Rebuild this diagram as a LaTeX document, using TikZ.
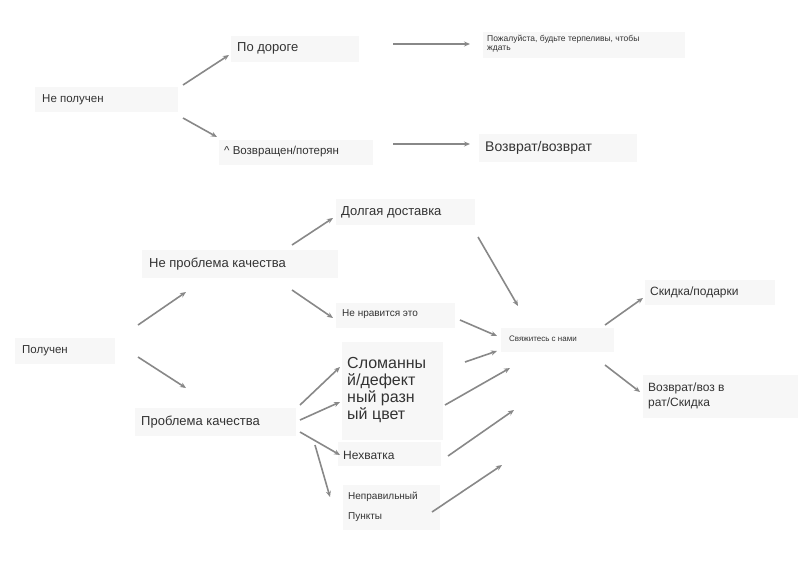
\documentclass[tikz,border=0pt]{standalone}
\usepackage{fontspec}
\setmainfont{Liberation Sans}
\usetikzlibrary{arrows.meta}
\definecolor{bx}{HTML}{F7F7F7}
\definecolor{tx}{HTML}{333333}
\definecolor{ar}{HTML}{888888}
\begin{document}
\begin{tikzpicture}[x=1pt,y=-1pt,
  lbl/.style={text=tx,anchor=west,inner sep=0pt,font=\fontsize{11.5}{13}\selectfont,align=left},
  conn/.style={draw=ar,line width=1.6pt,-{Stealth[length=6pt,width=5pt]}}]
\useasboundingbox[fill=white] (0,0) rectangle (799,565);
\path[fill=bx] (35,87) rectangle (178,112);
\path[fill=bx] (231,36) rectangle (359,62);
\path[fill=bx] (483,32) rectangle (685,58);
\path[fill=bx] (219,140) rectangle (373,165);
\path[fill=bx] (479,134) rectangle (637,162);
\path[fill=bx] (15,338) rectangle (115,364);
\path[fill=bx] (142,250) rectangle (338,278);
\path[fill=bx] (336,199) rectangle (475,225);
\path[fill=bx] (336,303) rectangle (455,328);
\path[fill=bx] (501,328) rectangle (614,352);
\path[fill=bx] (645,280) rectangle (775,305);
\path[fill=bx] (643,375) rectangle (798,418);
\path[fill=bx] (135,408) rectangle (296,436);
\path[fill=bx] (342,342) rectangle (443,440);
\path[fill=bx] (338,442) rectangle (441,466);
\path[fill=bx] (343,485) rectangle (440,530);
\node[lbl] (np) at (42,100) {Не получен};
\node[lbl,font=\fontsize{13}{15}\selectfont] (pd) at (237,48) {По дороге};
\node[lbl,font=\fontsize{8.5}{9}\selectfont] (pw) at (487,44) {Пожалуйста, будьте терпеливы, чтобы\\ждать};
\node[lbl] (vp) at (224,152) {\^{} Возвращен/потерян};
\node[lbl,font=\fontsize{14}{16}\selectfont] (vv) at (485,148) {Возврат/возврат};
\node[lbl] (pl) at (22,351) {Получен};
\node[lbl,font=\fontsize{13}{15}\selectfont] (nk) at (149,264) {Не проблема качества};
\node[lbl,font=\fontsize{13}{15}\selectfont] (dd) at (341,212) {Долгая доставка};
\node[lbl,font=\fontsize{10}{12}\selectfont] (ne) at (342,314) {Не нравится это};
\node[lbl,font=\fontsize{8}{9}\selectfont] (sv) at (509,339) {Свяжитесь с нами};
\node[lbl,font=\fontsize{12}{14}\selectfont] (sp) at (650,292) {Скидка/подарки};
\node[lbl,font=\fontsize{12}{15}\selectfont] (vs) at (648,396) {Возврат/воз в\\рат/Скидка};
\node[lbl,font=\fontsize{13}{15}\selectfont] (pk) at (141,422) {Проблема качества};
\node[lbl,font=\fontsize{16}{17}\selectfont] (sl) at (347,390) {Сломанны\\й/дефект\\ный разн\\ый цвет};
\node[lbl,font=\fontsize{12}{14}\selectfont] (nh) at (343,455) {Нехватка};
\node[lbl,font=\fontsize{10}{20}\selectfont] (nr) at (348,507) {Неправильный\\Пункты};
\foreach \n/\x/\y/\X/\Y in {a/183/85/229/55, b/183/118/217/137, c/393/44/470/44, d/393/144/470/144,
 e/292/245/333/218, f/292/290/333/318, g/138/325/186/292, h/138/357/186/388,
 i/478/237/518/306, j/460/320/497/336, k/300/405/340/367, l/300/420/340/402,
 m/300/432/340/455, n/315/445/330/497, o/465/362/497/351, p/445/405/510/368,
 q/448/456/514/410, r/432/512/502/465, s/605/325/643/298, t/605/365/640/392}
 {\coordinate (\n1) at (\x,\y); \coordinate (\n2) at (\X,\Y); \draw[conn] (\n1) -- (\n2);}
\end{tikzpicture}
\end{document}
